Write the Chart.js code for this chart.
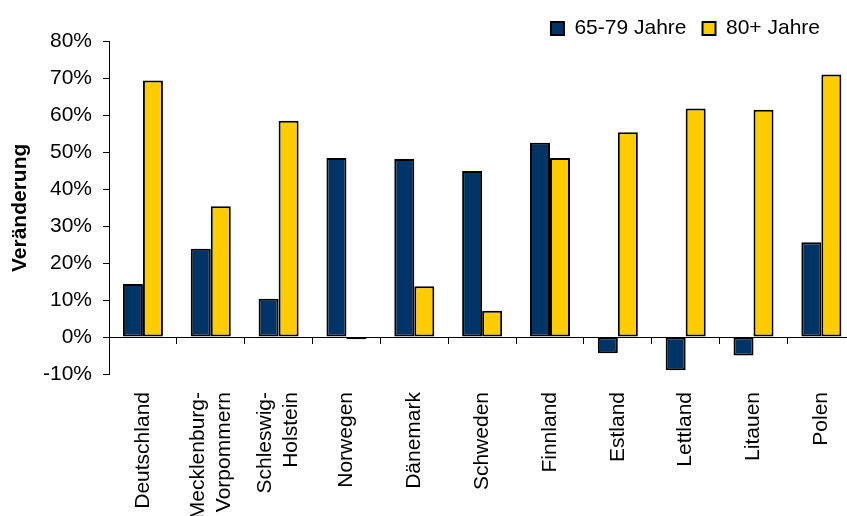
<!DOCTYPE html>
<html>
<head>
<meta charset="utf-8">
<script src="https://cdn.jsdelivr.net/npm/chart.js@4.4.1/dist/chart.umd.min.js"></script>
<style>
  html, body { margin: 0; padding: 0; background: #fff; overflow: hidden; }
  #wrap { width: 847px; height: 516px; overflow: hidden; }
  #box { position: relative; width: 865px; height: 516px; }
</style>
</head>
<body>
<div id="wrap"><div id="box"><canvas id="chart"></canvas></div></div>
<script>
// data (percent change)
const categories = ["Deutschland", ["Mecklenburg-", "Vorpommern"], ["Schleswig-", "Holstein"], "Norwegen", "Dänemark", "Schweden", "Finnland", "Estland", "Lettland", "Litauen", "Polen"];
const values6579 = [14.4, 23.9, 10.4, 48.5, 48.2, 45.0, 52.6, -4.4, -9.0, -5.0, 25.7];
const values80 = [69.5, 35.4, 58.6, -0.6, 13.8, 7.1, 48.5, 55.5, 61.9, 61.6, 71.1];
const seriesNames = ["65-79 Jahre", "80+ Jahre"];
const yMin = -10, yMax = 80, yStep = 10;

const FONT = "'Liberation Sans', Arial, sans-serif";
const BLUE = "#003366";
const YELLOW = "#FFCC00";

// category names split by line, so two-line names can be centred on their tick
const singleLine = categories.map(c => Array.isArray(c) ? "" : c);
const firstLine = categories.map(c => Array.isArray(c) ? c[0] : "");
const secondLine = categories.map(c => Array.isArray(c) ? c[1] : "");

// nudges the legend (the chart area runs past the window edge)
const legendShift = {
    id: "legendShift",
    afterLayout(chart) {
        const lg = chart.legend;
        lg.left -= 25;
        lg.right -= 25;
        lg.top += 2;
        lg.bottom += 2;
    }
};

function labelAxis(labels, offset) {
    return {
        type: "category",
        axis: "x",
        labels: labels,
        position: { y: yMin },
        offset: true,
        grid: { display: false, drawTicks: false },
        border: { display: false },
        ticks: {
            autoSkip: false, minRotation: 90, maxRotation: 90,
            padding: 18, labelOffset: offset,
            color: "#000", font: { family: FONT, size: 21 }
        }
    };
}

const ctx = document.getElementById("chart").getContext("2d");

new Chart(ctx, {
    type: "bar",
    data: {
        labels: categories.map(c => Array.isArray(c) ? c.join(" ") : c),
        datasets: [{
            label: seriesNames[0],
            data: values6579,
            backgroundColor: BLUE,
            borderColor: "#000",
            borderWidth: 2,
            borderSkipped: false,
            inflateAmount: 0
        }, {
            label: seriesNames[1],
            data: values80,
            backgroundColor: YELLOW,
            borderColor: "#000",
            borderWidth: 2,
            borderSkipped: false,
            inflateAmount: 0
        }]
    },
    options: {
        responsive: true,
        maintainAspectRatio: false,
        animation: false,
        layout: { padding: { left: 0, right: 4, top: 0, bottom: 0 } },
        datasets: { bar: { categoryPercentage: 0.59, barPercentage: 1.0 } },
        plugins: {
            tooltip: { enabled: false },
            legend: {
                position: "top",
                align: "end",
                maxHeight: 41.7,
                labels: {
                    boxWidth: 13,
                    boxHeight: 13,
                    padding: 16,
                    color: "#000",
                    font: { family: FONT, size: 21 }
                }
            }
        },
        scales: {
            x: {
                type: "category",
                axis: "x",
                position: { y: 0 },
                offset: true,
                grid: { offset: true, drawOnChartArea: false, tickLength: 6, color: "#000" },
                border: { color: "#000", width: 1 },
                ticks: { display: false }
            },
            lbl: {
                type: "category",
                axis: "x",
                labels: singleLine,
                position: "bottom",
                offset: true,
                grid: { display: false, drawTicks: false },
                border: { display: false },
                ticks: {
                    autoSkip: false, minRotation: 90, maxRotation: 90, padding: 18,
                    color: "#000", font: { family: FONT, size: 21 }
                },
                afterFit(scale) { scale.height = 142; }
            },
            lbl1: labelAxis(firstLine, -13),
            lbl2: labelAxis(secondLine, 13),
            y: {
                type: "linear",
                axis: "y",
                min: yMin,
                max: yMax,
                grid: { drawOnChartArea: false, tickLength: 6, color: "#000" },
                border: { color: "#000", width: 1 },
                ticks: {
                    stepSize: yStep,
                    padding: 11,
                    color: "#000",
                    font: { family: FONT, size: 21 },
                    callback: v => v + "%"
                },
                title: {
                    display: true,
                    text: "Veränderung",
                    color: "#000",
                    font: { family: FONT, size: 21, weight: "bold" },
                    padding: { top: 8 }
                },
                afterFit(scale) { scale.width = 109; }
            }
        }
    },
    plugins: [legendShift]
});
</script>
</body>
</html>
